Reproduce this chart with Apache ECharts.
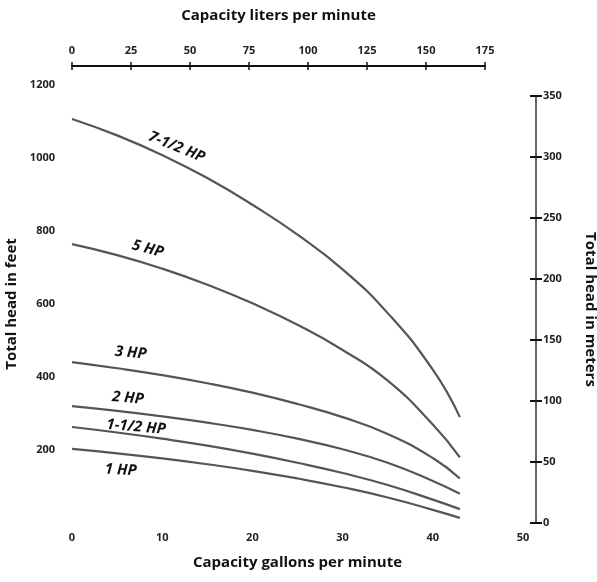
<!DOCTYPE html>
<html>
<head>
<meta charset="utf-8">
<title>Pump performance curves</title>
<script src="https://cdn.jsdelivr.net/npm/echarts@6/dist/echarts.min.js"></script>
<style>
  html, body { margin: 0; padding: 0; background: #fff; }
  #chart { width: 597px; height: 582px; }
</style>
</head>
<body>
<div id="chart"></div>
<script>
// capacity in gallons per minute (x) and total head in feet for each motor size
const gpm    = [0, 5, 10, 15, 20, 25, 30, 35, 40, 43]
const hp7_5  = [1107, 1062, 1008, 945, 872, 790, 695, 575, 420, 290]
const hp5    = [764, 734, 697, 653, 602, 543, 474, 390, 270, 180]
const hp3    = [441, 424, 405, 383, 357, 326, 290, 244, 178, 122]
const hp2    = [320, 307, 292, 275, 255, 231, 202, 165, 115, 80]
const hp1_5  = [263, 248, 231, 212, 190, 165, 137, 104, 64, 38]
const hp1    = [203, 191, 177, 161, 143, 122, 98, 70, 36, 14]

const gpmTicks    = [0, 10, 20, 30, 40, 50]
const literTicks  = [0, 25, 50, 75, 100, 125, 150, 175]
const feetTicks   = [200, 400, 600, 800, 1000, 1200]
const meterTicks  = [0, 50, 100, 150, 200, 250, 300, 350]

const font = 'Open Sans'
const ink = '#222'

const pairs = (ys) => gpm.map((g, i) => [g, ys[i]])

// curve + its hand-lettered label (placed in data coords)
function curve(name, ys, labelAt, rotate) {
  return {
    name: name,
    type: 'line',
    data: pairs(ys),
    smooth: true,
    symbol: 'none',
    lineStyle: { color: '#555', width: 2.2 },
    markPoint: {
      symbol: 'circle',
      symbolSize: 0,
      silent: true,
      data: [{ coord: labelAt }],
      label: {
        show: true,
        position: 'inside',
        formatter: name,
        rotate: rotate,
        color: '#111',
        fontFamily: font,
        fontStyle: 'italic',
        fontWeight: 'bold',
        fontSize: 15
      }
    }
  }
}

const axisText = { color: ink, fontFamily: font, fontWeight: 'bold', fontSize: 11, formatter: (v) => String(v) }
const nameText = { color: '#111', fontFamily: font, fontWeight: 'bold', fontSize: 15 }

const option = {
  animation: false,
  grid: [
    // main plot
    { left: 72, right: 74, top: 85, bottom: 59, containLabel: false, outerBoundsMode: 'none' },
    // liters scale across the top
    { left: 72, right: 112, top: 65, height: 1, containLabel: false, outerBoundsMode: 'none' },
    // meters scale on the right
    { left: 536, width: 1, top: 96, bottom: 59, containLabel: false, outerBoundsMode: 'none' }
  ],
  xAxis: [
    {
      gridIndex: 0,
      type: 'value',
      min: 0,
      max: 50,
      interval: 10,
      name: 'Capacity gallons per minute',
      nameLocation: 'middle',
      nameGap: 32,
      nameTextStyle: nameText,
      axisLine: { show: false },
      axisTick: { show: false },
      splitLine: { show: false },
      axisLabel: Object.assign({ margin: 9, customValues: gpmTicks }, axisText)
    },
    {
      gridIndex: 1,
      type: 'value',
      position: 'top',
      min: 0,
      max: 175,
      interval: 25,
      name: 'Capacity liters per minute',
      nameLocation: 'middle',
      nameGap: 42,
      nameTextStyle: nameText,
      axisLine: { show: true, lineStyle: { color: '#111', width: 2 } },
      axisTick: { show: true, length: 4, lineStyle: { color: '#111', width: 1.5 } },
      splitLine: { show: false },
      axisLabel: Object.assign({ margin: 9, customValues: literTicks }, axisText)
    },
    {
      // lower half of the crossing ticks on the liters scale
      gridIndex: 1,
      type: 'value',
      position: 'bottom',
      min: 0,
      max: 175,
      interval: 25,
      axisLine: { show: false },
      axisTick: { show: true, length: 4, lineStyle: { color: '#111', width: 1.5 } },
      axisLabel: { show: false },
      splitLine: { show: false }
    },
    { gridIndex: 2, type: 'value', min: 0, max: 1, show: false }
  ],
  yAxis: [
    {
      gridIndex: 0,
      type: 'value',
      min: 0,
      max: 1200,
      interval: 200,
      name: 'Total head in feet',
      nameLocation: 'middle',
      nameGap: 45,
      nameTextStyle: nameText,
      axisLine: { show: false },
      axisTick: { show: false },
      splitLine: { show: false },
      axisLabel: Object.assign({ margin: 17, customValues: feetTicks }, axisText)
    },
    { gridIndex: 1, type: 'value', min: 0, max: 1, show: false },
    {
      gridIndex: 2,
      type: 'value',
      position: 'right',
      min: 0,
      max: 350,
      interval: 50,
      name: 'Total head in meters',
      nameLocation: 'middle',
      nameRotate: -90,
      nameGap: 46,
      nameTextStyle: nameText,
      axisLine: { show: true, lineStyle: { color: '#333', width: 1.5 } },
      axisTick: { show: true, length: 6, lineStyle: { color: '#111', width: 2 } },
      splitLine: { show: false },
      axisLabel: Object.assign({ margin: 6, customValues: meterTicks }, axisText)
    },
    {
      // left half of the crossing ticks on the meters scale
      gridIndex: 2,
      type: 'value',
      position: 'left',
      min: 0,
      max: 350,
      interval: 50,
      axisLine: { show: false },
      axisTick: { show: true, length: 6, lineStyle: { color: '#111', width: 2 } },
      axisLabel: { show: false },
      splitLine: { show: false }
    }
  ],
  series: [
    curve('7-1/2 HP', hp7_5, [11.6, 1030], -22),
    curve('5 HP', hp5, [8.4, 751], -15),
    curve('3 HP', hp3, [6.5, 466], -5),
    curve('2 HP', hp2, [6.2, 342], -5),
    curve('1-1/2 HP', hp1_5, [7.1, 263], -5),
    curve('1 HP', hp1, [5.4, 145], -3)
  ]
}

const chart = echarts.init(document.getElementById('chart'))
chart.setOption(option)
</script>
</body>
</html>
